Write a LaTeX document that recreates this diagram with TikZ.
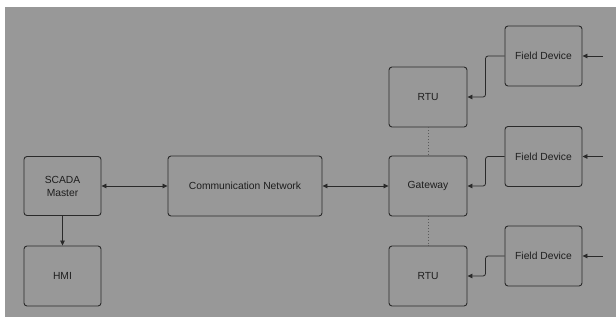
\documentclass[tikz,border=0pt]{standalone}
\usepackage{fontspec}
\setmainfont{Liberation Sans}
\usetikzlibrary{arrows.meta}
\definecolor{bg}{HTML}{989898}
\definecolor{edge}{HTML}{2A2A2A}
\definecolor{txt}{HTML}{1E1E1E}
\definecolor{dots}{HTML}{5A5A5A}
\begin{document}
\begin{tikzpicture}[x=1pt,y=1pt,
  box/.style={draw=edge, fill=bg, rounded corners=3pt, line width=0.9pt,
    inner sep=0pt, align=center, text=txt, font=\fontsize{10.3}{13}\selectfont},
  arr/.style={draw=edge, line width=0.8pt, -{Triangle[length=5pt,width=4.5pt]}},
  biarr/.style={draw=edge, line width=0.8pt, {Triangle[length=5pt,width=4.5pt]}-{Triangle[length=5pt,width=4.5pt]}},
  dotline/.style={draw=dots, line width=0.9pt, dotted}]
\useasboundingbox (0,0) rectangle (616,-322);
\fill[white] (0,0) rectangle (616,-322);
\fill[bg] (5,-7) rectangle (616,-317);

\node[box, minimum width=77pt, minimum height=59pt] (scada) at (62.5,-186) {SCADA\\Master};
\node[box, minimum width=77pt, minimum height=60pt] (hmi) at (62.5,-276) {HMI};
\node[box, minimum width=154pt, minimum height=60pt] (net) at (245,-186) {Communication Network};
\node[box, minimum width=78pt, minimum height=60pt] (gw) at (428,-186) {Gateway};
\node[box, minimum width=78pt, minimum height=60pt] (rtu1) at (428,-97) {RTU};
\node[box, minimum width=78pt, minimum height=60pt] (rtu2) at (428,-276) {RTU};
\node[box, minimum width=77pt, minimum height=60pt] (fd1) at (543.5,-56) {Field Device};
\node[box, minimum width=77pt, minimum height=60pt] (fd2) at (543.5,-156.5) {Field Device};
\node[box, minimum width=77pt, minimum height=60pt] (fd3) at (543.5,-256) {Field Device};

\coordinate (in1) at (603,-56);
\coordinate (in2) at (603,-156.5);
\coordinate (in3) at (603,-256);

\draw[biarr] (scada.east) -- (net.west);
\draw[biarr] (net.east) -- (gw.west);
\draw[arr] (scada.south) -- (hmi.north);

\draw[dotline] (rtu1.south) -- (gw.north);
\draw[dotline] (gw.south) -- (rtu2.north);

\draw[arr, rounded corners=2.5pt] (fd1.west) -- ++(-19,0) |- (rtu1.east);
\draw[arr, rounded corners=2.5pt] (fd2.west) -- ++(-19,0) |- (gw.east);
\draw[arr, rounded corners=2.5pt] (fd3.west) -- ++(-19,0) |- (rtu2.east);

\draw[arr] (in1) -- (fd1.east);
\draw[arr] (in2) -- (fd2.east);
\draw[arr] (in3) -- (fd3.east);
\end{tikzpicture}
\end{document}
